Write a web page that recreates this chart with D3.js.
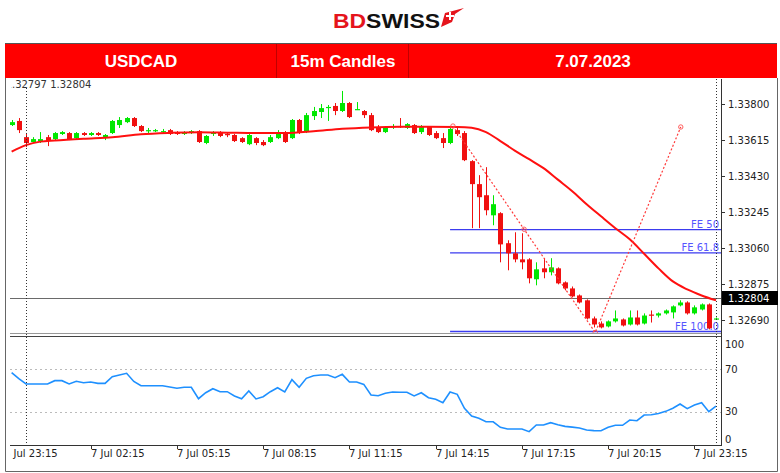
<!DOCTYPE html>
<html><head><meta charset="utf-8">
<script src="https://cdn.jsdelivr.net/npm/d3@7"></script>
<style>body{margin:0;background:#fff;} svg{display:block;font-family:"DejaVu Sans",sans-serif;}</style>
</head><body><svg id="c" width="780" height="473"></svg>
<script>
// ---------- DATA ----------
const headerCells = ["USDCAD", "15m Candles", "7.07.2023"];
const topInfo = "1.32797 1.32804";
const startIndex = -2; // first candle index (index 0 = 7 Jul 00:00)
const opens = [1.33692,1.33713,1.33630,1.33605,1.33610,1.33630,1.33620,1.33646,1.33651,1.33625,
1.33651,1.33641,1.33651,1.33630,1.33651,1.33692,1.33707,1.33728,1.33687,1.33661,
1.33661,1.33656,1.33666,1.33656,1.33646,1.33651,1.33661,1.33600,1.33646,1.33656,
1.33646,1.33641,1.33625,1.33594,1.33625,1.33605,1.33605,1.33625,1.33656,1.33625,
1.33718,1.33656,1.33738,1.33759,1.33779,1.33790,1.33764,1.33805,1.33769,1.33764,
1.33743,1.33682,1.33656,1.33682,1.33687,1.33677,1.33692,1.33656,1.33682,1.33651,
1.33625,1.33600,1.33666,1.33651,1.33507,1.33389,1.33332,1.33229,1.33240,1.33086,
1.33034,1.33003,1.33003,1.32901,1.32957,1.32937,1.32957,1.32885,1.32854,1.32818,
1.32793,1.32700,1.32674,1.32659,1.32685,1.32695,1.32669,1.32705,1.32674,1.32720,
1.32715,1.32726,1.32731,1.32767,1.32782,1.32726,1.32746,1.32772,1.32697];
const highs = [1.33718,1.33728,1.33646,1.33630,1.33656,1.33641,1.33656,1.33661,1.33656,1.33656,
1.33656,1.33656,1.33656,1.33646,1.33718,1.33733,1.33733,1.33733,1.33692,1.33677,
1.33672,1.33672,1.33672,1.33661,1.33661,1.33666,1.33666,1.33641,1.33661,1.33661,
1.33656,1.33646,1.33630,1.33651,1.33630,1.33615,1.33641,1.33666,1.33661,1.33723,
1.33723,1.33754,1.33785,1.33800,1.33795,1.33805,1.33867,1.33810,1.33810,1.33769,
1.33754,1.33692,1.33687,1.33697,1.33728,1.33702,1.33697,1.33692,1.33687,1.33661,
1.33651,1.33677,1.33687,1.33661,1.33512,1.33435,1.33476,1.33332,1.33245,1.33101,
1.33142,1.33137,1.33009,1.32988,1.33009,1.33009,1.32962,1.32890,1.32864,1.32823,
1.32798,1.32710,1.32685,1.32690,1.32741,1.32700,1.32741,1.32741,1.32726,1.32741,
1.32731,1.32746,1.32767,1.32793,1.32788,1.32767,1.32777,1.32777,1.32705];
const lows = [1.33687,1.33651,1.33579,1.33600,1.33600,1.33584,1.33615,1.33641,1.33615,1.33620,
1.33636,1.33636,1.33636,1.33615,1.33646,1.33677,1.33702,1.33682,1.33656,1.33651,
1.33656,1.33651,1.33641,1.33641,1.33641,1.33646,1.33600,1.33594,1.33636,1.33630,
1.33630,1.33605,1.33600,1.33589,1.33589,1.33584,1.33600,1.33620,1.33600,1.33620,
1.33646,1.33651,1.33718,1.33728,1.33713,1.33743,1.33759,1.33728,1.33769,1.33728,
1.33661,1.33651,1.33651,1.33672,1.33677,1.33672,1.33646,1.33646,1.33636,1.33620,
1.33574,1.33594,1.33636,1.33507,1.33163,1.33163,1.33229,1.33178,1.32988,1.32947,
1.32988,1.32952,1.32880,1.32870,1.32906,1.32921,1.32875,1.32844,1.32808,1.32777,
1.32695,1.32654,1.32649,1.32654,1.32679,1.32659,1.32664,1.32664,1.32669,1.32679,
1.32705,1.32720,1.32700,1.32762,1.32720,1.32720,1.32741,1.32644,1.32695];
const closes = [1.33707,1.33666,1.33600,1.33620,1.33620,1.33610,1.33651,1.33656,1.33620,1.33651,
1.33641,1.33651,1.33641,1.33641,1.33713,1.33718,1.33728,1.33687,1.33661,1.33666,
1.33666,1.33661,1.33646,1.33646,1.33656,1.33661,1.33605,1.33636,1.33656,1.33636,
1.33641,1.33610,1.33605,1.33641,1.33600,1.33589,1.33630,1.33651,1.33605,1.33718,
1.33656,1.33743,1.33764,1.33779,1.33785,1.33764,1.33805,1.33733,1.33774,1.33743,
1.33666,1.33656,1.33682,1.33687,1.33682,1.33697,1.33651,1.33682,1.33641,1.33625,
1.33600,1.33672,1.33646,1.33512,1.33389,1.33322,1.33255,1.33286,1.33080,1.33034,
1.33003,1.32988,1.32906,1.32952,1.32937,1.32962,1.32880,1.32854,1.32813,1.32782,
1.32700,1.32669,1.32654,1.32685,1.32700,1.32664,1.32705,1.32669,1.32715,1.32715,
1.32726,1.32741,1.32762,1.32782,1.32726,1.32757,1.32772,1.32649,1.32700];
// moving average (candle index, price)
const maIndex = [-2,0,2,4,8,12,16,20,24,28,32,36,40,44,48,52,56,60,62,64,66,68,70,72,74,76,78,80,82,84,86,88,90,92,94,96];
const maValues = [1.33556,1.33589,1.33607,1.33613,1.33622,1.33629,1.33645,1.33652,1.33655,1.33653,1.33651,1.33651,1.33660,1.33673,1.33680,1.33683,1.33683,1.33682,1.33678,1.33656,1.33610,1.33561,1.33517,1.33471,1.33412,1.33353,1.33286,1.33224,1.33163,1.33106,1.33032,1.32957,1.32890,1.32849,1.32818,1.32793];
const rsiValues = [66.6,61.0,56.1,56.1,56.1,56.1,59.2,59.2,56.1,58.6,57.3,57.9,56.7,56.7,62.9,64.5,66.1,58.5,54.5,54.5,
54.5,54.5,53.3,52.1,53.0,53.0,42.3,47.9,51.7,48.9,48.9,44.9,42.3,49.5,42.1,44.2,48.9,52.6,48.6,60.1,
53.0,61.4,63.8,64.5,64.5,62.0,65.1,57.9,57.9,55.7,45.8,45.1,47.4,48.6,48.3,48.3,44.9,47.9,43.3,41.8,
38.6,48.6,46.4,33.4,26.2,24.0,20.8,20.8,15.6,14.0,14.0,14.0,11.5,17.8,17.8,19.9,18.0,16.5,15.8,15.0,
13.1,12.5,12.4,15.6,17.5,17.5,22.4,21.8,27.1,27.4,28.5,30.5,33.4,37.4,33.0,36.4,38.6,30.2,35.5];
const priceTicks = [1.33800,1.33615,1.33430,1.33245,1.33060,1.32875,1.32690];
const lastPrice = 1.32804;
const rsiTicks = [100,70,30,0];
const rsiLevels = [70,30];
const timeTickIndex = [-3,9,21,33,45,57,69,81,93];
const timeTickLabels = ["6 Jul 23:15","7 Jul 02:15","7 Jul 05:15","7 Jul 08:15","7 Jul 11:15","7 Jul 14:15","7 Jul 17:15","7 Jul 20:15","7 Jul 23:15"];
const daySeparators = [0,96];
const feLabels = ["FE 50","FE 61.8","FE 100.0"];
const fePrices = [1.33156,1.33036,1.32633];
const feStartIndex = 59.0;
const feIdx = [59.4,79.2,91.1];
const fePts = [1.33687,1.32628,1.33682];

// ---------- LAYOUT ----------
const svg = d3.select("#c");
const L = 10, R = 721, mainTop = 79, mainBot = 334, rsiTop = 337, rsiBot = 444;
const x = d3.scaleLinear().domain([0,96]).range([26,716]);
const y = d3.scaleLinear().domain([1.3269,1.338]).range([320.4,104]);
const yr = d3.scaleLinear().domain([0,100]).range([444,337]);
const GREEN = "#00e800", RED = "#f01010";

// logo
const logo = svg.append("text").attr("x",333).attr("y",27.5).attr("font-family","Liberation Sans, Arial, sans-serif")
  .attr("font-weight","bold").attr("font-size",21).attr("textLength",107).attr("lengthAdjust","spacingAndGlyphs");
logo.append("tspan").attr("fill","#e5141c").text("BD");
logo.append("tspan").attr("fill","#111").text("SWISS");
svg.append("path").attr("d","M441,27 L445,13 L464,8 L455,14 L452,22 Z").attr("fill","#e5141c");
svg.append("path").attr("d","M449,12 h2 v3 h3 v2 h-3 v3 h-2 v-3 h-3 v-2 h3 Z").attr("fill","#fff");

// header bar
svg.append("rect").attr("x",5).attr("y",44).attr("width",772).attr("height",34).attr("fill","#ff0000");
svg.append("line").attr("x1",5).attr("x2",777).attr("y1",43.5).attr("y2",43.5).attr("stroke","#555");
[276,408].forEach(d=>svg.append("line").attr("x1",d+0.5).attr("x2",d+0.5).attr("y1",44).attr("y2",78).attr("stroke","#c00000"));
const hx = [141,343,593];
headerCells.forEach((t,i)=>svg.append("text").attr("x",hx[i]).attr("y",67).attr("text-anchor","middle")
  .attr("font-family","Liberation Sans, Arial, sans-serif").attr("font-weight","bold").attr("font-size",17)
  .attr("fill","#fff").text(t));

// outer frame
svg.append("path").attr("d","M5.5,78 V471.5 H777.5 V78").attr("fill","none").attr("stroke","#666");

// clip paths
const defs = svg.append("defs");
defs.append("clipPath").attr("id","mainClip").append("rect").attr("x",L).attr("y",mainTop).attr("width",R-L).attr("height",mainBot-mainTop);
defs.append("clipPath").attr("id","rsiClip").append("rect").attr("x",L).attr("y",rsiTop).attr("width",R-L).attr("height",rsiBot-rsiTop+1);
defs.append("clipPath").attr("id","txtClip").append("rect").attr("x",11).attr("y",70).attr("width",200).attr("height",30);
defs.append("clipPath").attr("id","axClip").append("rect").attr("x",10.5).attr("y",440).attr("width",770).attr("height",30);

// top info text
svg.append("text").attr("x",5.6).attr("y",88).attr("font-size",10).attr("fill","#333").attr("clip-path","url(#txtClip)").text(topInfo);

const main = svg.append("g").attr("clip-path","url(#mainClip)");

// current price line
main.append("line").attr("x1",L).attr("x2",R).attr("y1",Math.round(y(lastPrice))+0.5).attr("y2",Math.round(y(lastPrice))+0.5).attr("stroke","#6a6a6a");

// FE lines
fePrices.forEach((p,i)=>{
  const yy = y(p);
  main.append("line").attr("x1",x(feStartIndex)).attr("x2",R).attr("y1",yy).attr("y2",yy).attr("stroke","#3b3bef").attr("stroke-width",1.3);
  main.append("text").attr("x",719).attr("y",yy-1.5).attr("text-anchor","end").attr("font-size",10).attr("fill","#5555ff").text(feLabels[i]);
});

// candles
const candles = opens.map((o,k)=>({i:startIndex+k,o,h:highs[k],l:lows[k],c:closes[k]}));
const cg = main.append("g");
candles.forEach(d=>{
  const cx = Math.round(x(d.i))+0.5;
  const col = d.c >= d.o ? GREEN : RED;
  cg.append("line").attr("x1",cx).attr("x2",cx).attr("y1",y(d.h)).attr("y2",y(d.l)).attr("stroke",col).attr("stroke-width",1);
  const top = y(Math.max(d.o,d.c)), bot = y(Math.min(d.o,d.c));
  cg.append("rect").attr("x",cx-2.5).attr("y",top).attr("width",5).attr("height",Math.max(1.2,bot-top)).attr("fill",col);
});

// MA line
main.append("path").datum(maIndex.map((d,i)=>[d,maValues[i]]))
  .attr("d",d3.line().x(d=>x(d[0])).y(d=>y(d[1])).curve(d3.curveMonotoneX))
  .attr("fill","none").attr("stroke","#ff1010").attr("stroke-width",2);

// FE dotted lines
const fePath = feIdx.map((d,i)=>[x(d),y(fePts[i])]);
main.append("path").datum(fePath).attr("d",d3.line()).attr("fill","none").attr("stroke","#ff3a3a").attr("stroke-width",1.2).attr("stroke-dasharray","2,2");
const mid = [(fePath[0][0]+fePath[1][0])/2,(fePath[0][1]+fePath[1][1])/2];
[fePath[0],mid,fePath[1],fePath[2]].forEach(p=>main.append("circle").attr("cx",p[0]).attr("cy",p[1]).attr("r",2.2).attr("fill","none").attr("stroke","#ff5050").attr("stroke-width",0.9));

// panel separators
svg.append("line").attr("x1",L).attr("x2",R).attr("y1",333.5).attr("y2",333.5).attr("stroke","#999");
svg.append("line").attr("x1",L).attr("x2",R+1).attr("y1",336.5).attr("y2",336.5).attr("stroke","#444");

// right price axis
svg.append("line").attr("x1",R+0.5).attr("x2",R+0.5).attr("y1",mainTop).attr("y2",rsiBot+1).attr("stroke","#333");
priceTicks.forEach(p=>{
  const yy = Math.round(y(p))+0.5;
  svg.append("line").attr("x1",R).attr("x2",R+4).attr("y1",yy).attr("y2",yy).attr("stroke","#333");
  svg.append("text").attr("x",728).attr("y",yy+3.5).attr("font-size",10).attr("fill","#222").text(p.toFixed(5));
});
const ly = Math.round(y(lastPrice));
svg.append("rect").attr("x",722).attr("y",ly-7).attr("width",56).attr("height",14).attr("fill","#000");
svg.append("text").attr("x",728).attr("y",ly+4).attr("font-size",10).attr("fill","#fff").text(lastPrice.toFixed(5));

// RSI panel
const rsi = svg.append("g").attr("clip-path","url(#rsiClip)");
rsiLevels.forEach(v=>rsi.append("line").attr("x1",L).attr("x2",R).attr("y1",Math.round(yr(v))+0.5).attr("y2",Math.round(yr(v))+0.5)
  .attr("stroke","#bbb").attr("stroke-dasharray","2,3"));
rsi.append("path").datum(rsiValues.map((v,k)=>[startIndex+k,v]))
  .attr("d",d3.line().x(d=>x(d[0])).y(d=>yr(d[1])))
  .attr("fill","none").attr("stroke","#1e90ff").attr("stroke-width",1.6);
rsiTicks.forEach(v=>{
  const yy = Math.min(Math.max(yr(v),344),439);
  svg.append("text").attr("x",725).attr("y",yy+3.5).attr("font-size",10).attr("fill","#222").text(v);
});

// x axis
svg.append("line").attr("x1",L).attr("x2",R+1).attr("y1",rsiBot+1.5).attr("y2",rsiBot+1.5).attr("stroke","#333");
const ax = svg.append("g").attr("clip-path","url(#axClip)");
timeTickIndex.forEach((t,i)=>{
  const xx = Math.round(x(t))+0.5;
  ax.append("line").attr("x1",xx).attr("x2",xx).attr("y1",rsiBot+1).attr("y2",rsiBot+5).attr("stroke","#333");
  ax.append("text").attr("x",xx-0.5).attr("y",457).attr("font-size",10).attr("fill","#222").text(timeTickLabels[i]);
});

// dotted vertical day separators
daySeparators.forEach((t,i)=>{
  const xx = Math.round(x(t))+0.5;
  svg.append("line").attr("x1",xx).attr("x2",xx).attr("y1",i===0?88:mainTop).attr("y2",rsiBot+1).attr("stroke","#333").attr("stroke-dasharray","1,2");
});
</script></body></html>
